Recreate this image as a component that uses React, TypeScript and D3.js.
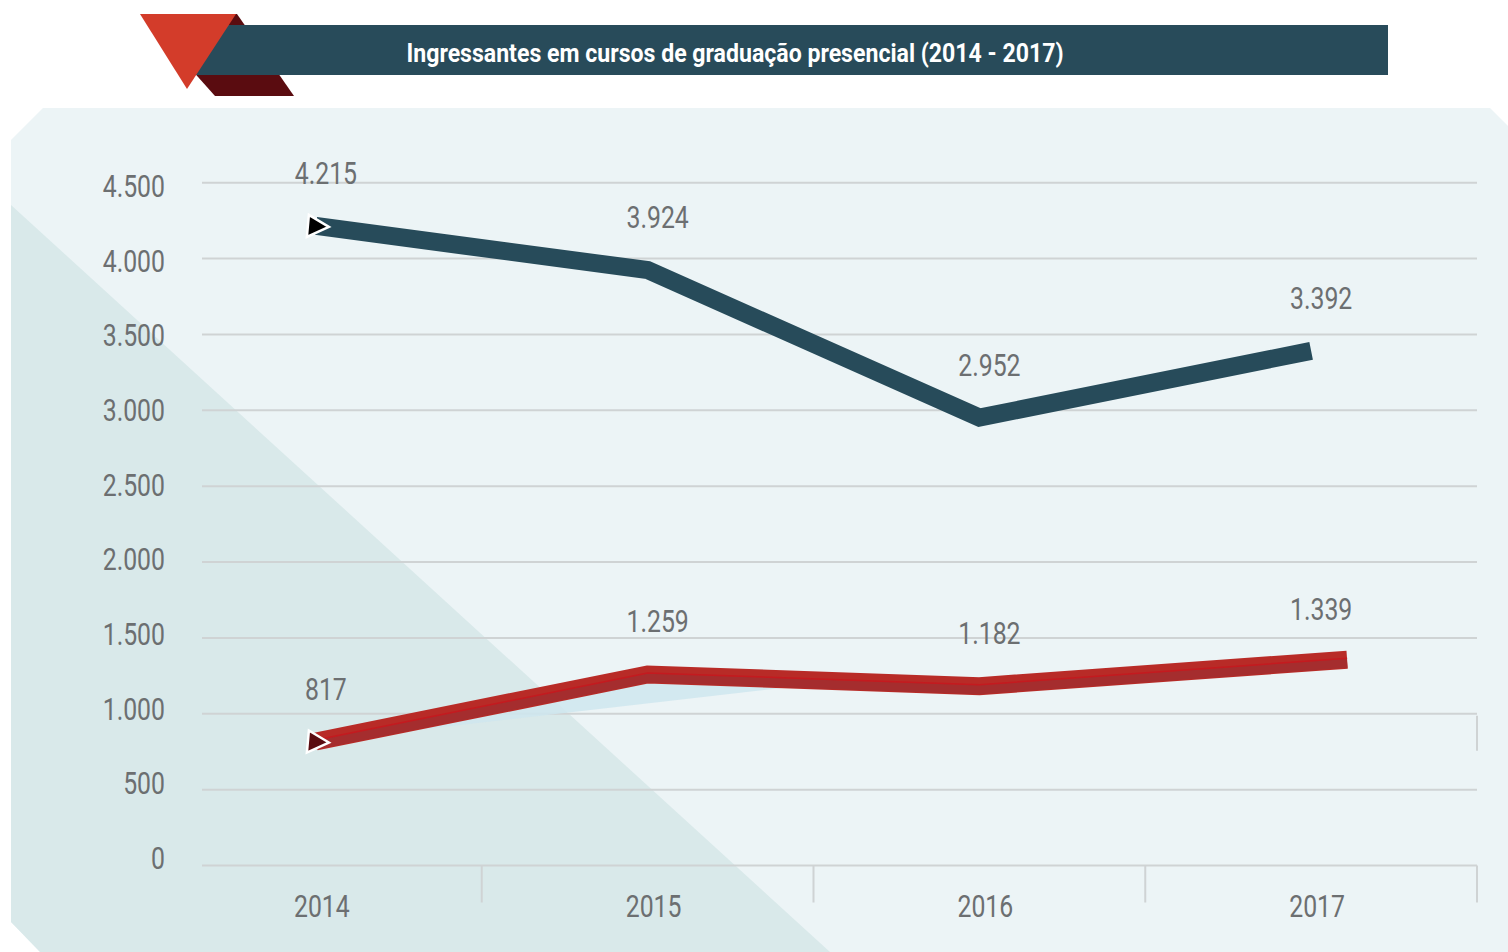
import React from "react";
import * as d3 from "d3";

const years = ["2014", "2015", "2016", "2017"];
const seriesDark = [4215, 3924, 2952, 3392];
const seriesRed = [817, 1259, 1182, 1339];
const yTicks = [0, 500, 1000, 1500, 2000, 2500, 3000, 3500, 4000, 4500];
const title = "Ingressantes em cursos de graduação presencial (2014 - 2017)";

const fmt = (v: number) => d3.format(",")(v).replace(/,/g, ".");

const FONT = "Roboto, 'Liberation Sans', sans-serif";
const GRAY = "#6c6f71";

function CText({ x, y, anchor = "middle", size = 31, fill = GRAY, weight = 400, sx = 0.8, children }: any) {
  return (
    <text
      transform={`translate(${x},${y}) scale(${sx},1)`}
      textAnchor={anchor}
      fontFamily={FONT}
      fontSize={size}
      fontWeight={weight}
      fill={fill}
    >
      {children}
    </text>
  );
}

export default function App() {
  const W = 1508, H = 952;
  const y = d3.scaleLinear().domain([0, 4500]).range([865.5, 182.7]);
  const yLab = d3.scaleLinear().domain([0, 4500]).range([858, 186]);
  const xb = d3.scaleBand().domain(years).range([150, 1477]).paddingInner(0);
  const bw = xb.bandwidth();
  const cx = (yr: string) => (xb(yr) as number) + bw / 2;
  const gridX0 = 202, gridX1 = 1477;

  const ptsDark: [number, number][] = years.map((yr, i) => [cx(yr), y(seriesDark[i])]);
  const ptsRed: [number, number][] = years.map((yr, i) => [cx(yr), y(seriesRed[i])]);
  // decorative extension of red ribbon end along its last segment
  const [ax, ay] = ptsRed[2];
  const [bx, by] = ptsRed[3];
  const ext = 36 / (bx - ax);
  const redExt: [number, number][] = [...ptsRed.slice(0, 3), [bx + (bx - ax) * ext, by + (by - ay) * ext]];

  const line = d3.line().curve(d3.curveLinear);

  // shadow under red ribbon
  const t = 0.58;
  const shadowPts: [number, number][] = [
    ptsRed[0],
    ptsRed[1],
    [ptsRed[1][0] + (ptsRed[2][0] - ptsRed[1][0]) * t, ptsRed[1][1] + (ptsRed[2][1] - ptsRed[1][1]) * t],
  ];

  const arrow = (p: [number, number], fill: string) => {
    const [px, py] = p;
    return (
      <path
        d={`M${px - 7},${py - 11} L${px + 13},${py + 1} L${px - 9},${py + 11} Z`}
        fill={fill}
        stroke="#ffffff"
        strokeWidth={2.5}
        strokeLinejoin="miter"
      />
    );
  };

  return (
    <svg width={W} height={H} style={{ position: "absolute", left: 0, top: 0, background: "#ffffff" }}>
      {/* panel background */}
      <path d="M11,140 L43,108 L1490,108 L1508,126 L1508,952 L40,952 L11,922 Z" fill="#ecf4f6" />
      <path d="M11,205 L830,952 L40,952 L11,922 Z" fill="#d9e9ea" />

      {/* title banner */}
      <path d="M226,14 L237,14 L294,96 L215,96 L190,68 Z" fill="#5a0c10" />
      <rect x={190} y={25} width={1198} height={50} fill="#284b5a" />
      <path d="M140,14 L236,14 L187,89 Z" fill="#d33c2a" />
      <text
        x={735}
        y={62}
        textAnchor="middle"
        fontFamily={FONT}
        fontSize={25}
        fontWeight={700}
        fill="#ffffff"
        textLength={657}
        lengthAdjust="spacingAndGlyphs"
      >
        {title}
      </text>

      {/* gridlines */}
      {yTicks.map((v) => (
        <line key={v} x1={gridX0} x2={gridX1} y1={y(v)} y2={y(v)} stroke="#cfd3d4" strokeWidth={2} />
      ))}
      {/* y tick labels */}
      {yTicks.map((v) => (
        <CText key={v} x={165} y={yLab(v) + 11} anchor="end">
          {fmt(v)}
        </CText>
      ))}

      {/* x separators */}
      {years.map((yr) => (
        <line
          key={yr}
          x1={(xb(yr) as number) + bw}
          x2={(xb(yr) as number) + bw}
          y1={y(0)}
          y2={y(0) + 37}
          stroke="#cfd3d4"
          strokeWidth={2}
        />
      ))}
      <line x1={gridX1} x2={gridX1} y1={y(1000) + 2} y2={y(1000) + 37} stroke="#cfd3d4" strokeWidth={2} />

      {/* x labels */}
      {years.map((yr) => (
        <CText key={yr} x={cx(yr) + 6} y={917}>
          {yr}
        </CText>
      ))}

      {/* red series shadow */}
      <path d={`M${shadowPts.map((p) => p.join(",")).join(" L")} Z`} fill="#cfe6ee" opacity={0.85} />

      {/* dark series */}
      <path d={line(ptsDark) as string} fill="none" stroke="#274b5a" strokeWidth={18} strokeLinejoin="miter" />
      {arrow(ptsDark[0], "#000000")}

      {/* red series ribbon */}
      <path d={line(redExt) as string} fill="none" stroke="#b82b27" strokeWidth={18} strokeLinejoin="miter" />
      <path
        d={line(redExt) as string}
        transform="translate(0,3.5)"
        fill="none"
        stroke="#a52d2e"
        strokeWidth={9}
        strokeLinejoin="miter"
      />
      <path
        d={line(redExt) as string}
        transform="translate(0,-1.5)"
        fill="none"
        stroke="#c41a1f"
        strokeWidth={1.5}
        strokeLinejoin="miter"
      />
      {arrow(ptsRed[0], "#5a0c10")}

      {/* value labels */}
      {ptsDark.map((p, i) => (
        <CText key={"d" + i} x={p[0] + 10} y={p[1] - 42}>
          {fmt(seriesDark[i])}
        </CText>
      ))}
      {ptsRed.map((p, i) => (
        <CText key={"r" + i} x={p[0] + 10} y={p[1] - 42}>
          {fmt(seriesRed[i])}
        </CText>
      ))}
    </svg>
  );
}
